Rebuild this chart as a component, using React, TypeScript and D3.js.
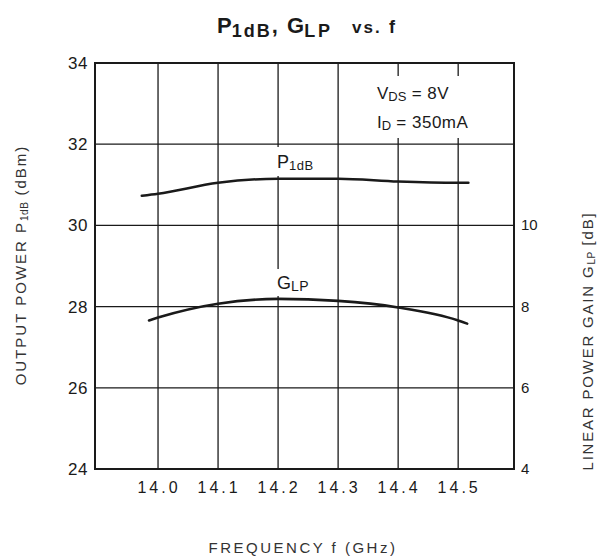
import React from "react";
import * as d3 from "d3";

const freqP = [13.973, 14.0, 14.1, 14.2, 14.3, 14.4, 14.5, 14.517];
const p1dB = [30.73, 30.78, 31.05, 31.15, 31.15, 31.08, 31.05, 31.05];
const freqG = [13.985, 14.0, 14.1, 14.2, 14.3, 14.4, 14.5, 14.515];
const glp = [7.66, 7.73, 8.07, 8.19, 8.14, 7.98, 7.66, 7.58];
const xTicks = [14.0, 14.1, 14.2, 14.3, 14.4, 14.5];
const leftTicks = [24, 26, 28, 30, 32, 34];
const rightTicks = [4, 6, 8, 10];

const W = 601, H = 559;
const L = 95, R = 514, T = 63, B = 469;

export default function App() {
  const x = d3.scaleLinear().domain([13.895, 14.593]).range([L, R]);
  const yL = d3.scaleLinear().domain([24, 34]).range([B, T]);
  const yR = d3.scaleLinear().domain([4, 14]).range([B, T]);
  const lineP = d3.line<number>().x((_, i) => x(freqP[i])).y((d) => yL(d)).curve(d3.curveMonotoneX);
  const lineG = d3.line<number>().x((_, i) => x(freqG[i])).y((d) => yR(d)).curve(d3.curveMonotoneX);
  const font = "'Liberation Sans', Arial, Helvetica, sans-serif";
  const ink = "#1a1a1a";
  return (
    <svg width={W} height={H} style={{ position: "absolute", left: 0, top: 0, background: "#fff" }} fontFamily={font}>
      <rect x={0} y={0} width={W} height={H} fill="#fff" />
      {/* title */}
      <text x={217} y={33} fontSize={22} fontWeight="bold" fill={ink}>
        P<tspan fontSize={18} dy={4} letterSpacing={2}>1dB</tspan>
        <tspan dy={-4}>,</tspan>
        <tspan x={287}>G</tspan>
        <tspan fontSize={18} dy={4} letterSpacing={3}>LP</tspan>
        <tspan x={352} dy={-4} fontSize={17} letterSpacing={2}>vs.</tspan>
        <tspan x={389} fontSize={18}>f</tspan>
      </text>
      {/* grid */}
      {[26, 28, 30, 32].map((v) => (
        <line key={"h" + v} x1={L} x2={R} y1={yL(v)} y2={yL(v)} stroke={ink} strokeWidth={1.3} />
      ))}
      {xTicks.map((v) => (
        <line key={"v" + v} x1={x(v)} x2={x(v)} y1={T} y2={B} stroke={ink} strokeWidth={1.3} />
      ))}
      {/* label backgrounds */}
      <rect x={372} y={76} width={130} height={62} fill="#fff" />
      <rect x={270} y={147} width={62} height={29} fill="#fff" />
      <rect x={270} y={269} width={54} height={27} fill="#fff" />
      {/* frame */}
      <rect x={L} y={T} width={R - L} height={B - T} fill="none" stroke={ink} strokeWidth={2} />
      {/* curves */}
      <path d={lineP(p1dB) || ""} fill="none" stroke={ink} strokeWidth={2.6} strokeLinecap="round" />
      <path d={lineG(glp) || ""} fill="none" stroke={ink} strokeWidth={2.6} strokeLinecap="round" />
      {/* curve labels */}
      <text x={277} y={168} fontSize={18} fill={ink}>
        P<tspan fontSize={13} dy={2} letterSpacing={0.5}>1dB</tspan>
      </text>
      <text x={277} y={289} fontSize={18} fill={ink}>
        G<tspan fontSize={14} dy={2} letterSpacing={0.5}>LP</tspan>
      </text>
      {/* conditions */}
      <text x={377} y={99} fontSize={17} fill={ink}>
        V<tspan fontSize={13} dy={2}>DS</tspan>
        <tspan dy={-2} letterSpacing={0.5}>{" = 8V"}</tspan>
      </text>
      <text x={377} y={128} fontSize={17} fill={ink}>
        I<tspan fontSize={13} dy={2}>D</tspan>
        <tspan dy={-2} letterSpacing={0.5}>{" = 350mA"}</tspan>
      </text>
      {/* left ticks */}
      {leftTicks.map((v) => (
        <text key={"l" + v} x={88} y={yL(v) + 6} textAnchor="end" fontSize={17} fill={ink} letterSpacing={0.5}>
          {v}
        </text>
      ))}
      {/* right ticks */}
      {rightTicks.map((v) => (
        <text key={"r" + v} x={521} y={yR(v) + 5} fontSize={15} fill={ink}>
          {v}
        </text>
      ))}
      {/* x ticks */}
      {xTicks.map((v) => (
        <text key={"x" + v} x={x(v) + 1} y={493} textAnchor="middle" fontSize={16} fill={ink} letterSpacing={3}>
          {v.toFixed(1)}
        </text>
      ))}
      {/* axis titles */}
      <text x={303} y={553} textAnchor="middle" fontSize={15} fill="#333" letterSpacing={2.5}>
        FREQUENCY f (GHz)
      </text>
      <text transform="translate(26,265) rotate(-90)" textAnchor="middle" fontSize={15} fill="#333" letterSpacing={2}>
        OUTPUT POWER P<tspan fontSize={10} dy={2} letterSpacing={0.5}>1dB</tspan>
        <tspan dy={-2}>{" (dBm)"}</tspan>
      </text>
      <text transform="translate(593,341) rotate(-90)" textAnchor="middle" fontSize={15} fill="#333" letterSpacing={1.8}>
        LINEAR POWER GAIN G<tspan fontSize={10} dy={2} letterSpacing={0.5}>LP</tspan>
        <tspan dy={-2}>{" [dB]"}</tspan>
      </text>
    </svg>
  );
}
